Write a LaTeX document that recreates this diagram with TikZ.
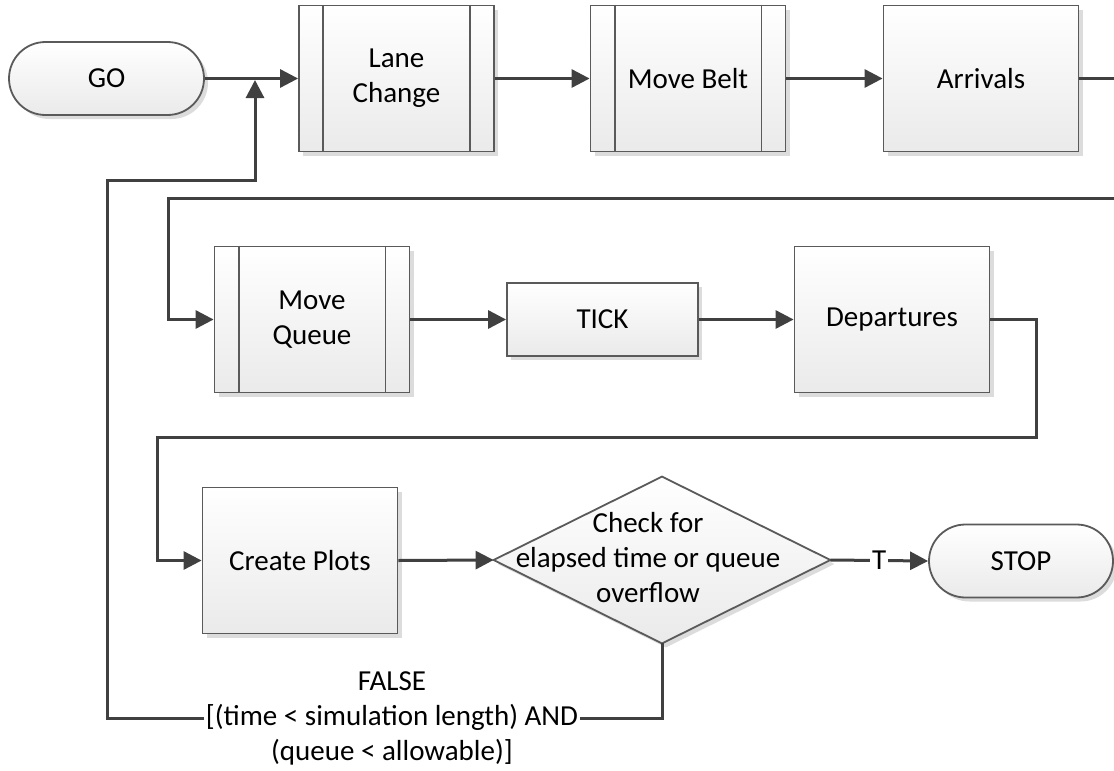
\documentclass[tikz,border=0pt]{standalone}
\usepackage{fontspec}
\setmainfont{Carlito}
\usetikzlibrary{arrows.meta,shapes.misc,shadows}
\pgfdeclarelayer{background}
\pgfsetlayers{background,main}
\definecolor{edgecol}{HTML}{5A5A5A}
\definecolor{conncol}{HTML}{404040}
\definecolor{shadecol}{HTML}{EAEAEA}
\definecolor{shadowcol}{HTML}{DCDCDC}
\tikzset{
  txt/.style={font=\fontsize{14.5}{17.5}\selectfont, align=center},
  base/.style={txt, draw=edgecol, line width=0.9pt, top color=white, bottom color=shadecol,
    drop shadow={shadow xshift=2pt, shadow yshift=-2pt, fill=shadowcol, opacity=1}, inner sep=0pt},
  procbox/.style={base, rectangle, minimum width=97.5pt, minimum height=73pt},
  tickbox/.style={base, rectangle, minimum width=95.5pt, minimum height=36.5pt},
  termbox/.style={base, rounded rectangle, minimum height=36.5pt},
  conn/.style={draw=conncol, line width=1.5pt},
  arr/.style={conn, -{Triangle[length=9pt,width=9pt]}},
  lbl/.style={txt, fill=white, inner sep=0.6pt},
  subline/.style={draw=edgecol, line width=0.9pt}
}
\begin{document}
\begin{tikzpicture}[x=0.5pt, y=-0.5pt]
\useasboundingbox (0,0) rectangle (1114,771);

% row 1
\node[termbox, minimum width=97.5pt] (go) at (106.5,78.5) {GO};
\node[procbox] (lc) at (396.5,78.5) {Lane\\Change};
\node[procbox] (mb) at (688,78.5) {Move Belt};
\node[procbox] (av) at (981,78.5) {Arrivals};

% row 2
\node[procbox] (mq) at (312,319.5) {Move\\Queue};
\node[tickbox] (tk) at (602.5,319.5) {TICK};
\node[procbox] (dp) at (892,319.5) {Departures};

% row 3
\node[procbox] (cp) at (300,560.5) {Create Plots};
\node[txt, minimum width=168pt, minimum height=83pt, inner sep=0pt] (chk) at (662,560)
  {\kern-7pt\begin{tabular}{@{}c@{}}Check for\\elapsed time or queue\\overflow\end{tabular}\kern7pt};
\begin{pgfonlayer}{background}
  \path[base] (chk.west) -- (chk.north) -- (chk.east) -- (chk.south) -- cycle;
\end{pgfonlayer}
\node[termbox, minimum width=92pt] (stop) at (1021,561) {STOP};

% predefined-process side lines
\foreach \n in {lc,mb,mq}{
  \draw[subline] ([xshift=12.5pt]\n.north west) -- ([xshift=12.5pt]\n.south west);
  \draw[subline] ([xshift=-12.5pt]\n.north east) -- ([xshift=-12.5pt]\n.south east);
}

% label on the loop-back connector
\node[lbl] (fl) at (392,718) {FALSE\\{}[(time < simulation length) AND\\(queue < allowable)]};

% coordinates for bends
\coordinate (ea) at (1118,78.5);
\coordinate (eb) at (1118,198);
\coordinate (fm) at (168,198);
\coordinate (d1) at (1036,437);
\coordinate (d2) at (157,437);
\coordinate (f2) at (107,180);
\coordinate (f3) at (255,180);
\coordinate (jn) at (255,80);

% connectors
\draw[arr] (go.east) -- (lc.west);
\draw[arr] (lc.east) -- (mb.west);
\draw[arr] (mb.east) -- (av.west);
\draw[conn] (av.east) -- (ea);
\draw[arr] (eb) -- (fm) |- (mq.west);
\draw[arr] (mq.east) -- (tk.west);
\draw[arr] (tk.east) -- (dp.west);
\draw[arr] (dp.east) -| (d1) -- (d2) |- (cp.west);
\draw[arr] (cp.east) -- (chk.west);
\draw[arr] (chk.east) -- node[lbl, inner sep=1pt] {T} (stop.west);
\draw[conn] (chk.south) |- (fl.east);
\draw[arr] (fl.west) -| (f2) -- (f3) -- (jn);
\end{tikzpicture}
\end{document}
